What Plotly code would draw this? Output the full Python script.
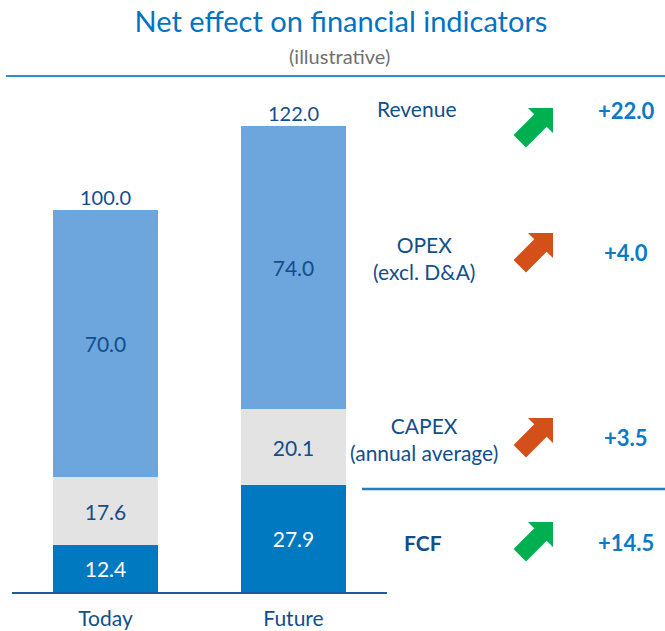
import plotly.graph_objects as go

# Stacked components of the financial indicators (illustrative)
scenarios = ["Today", "Future"]
fcf = [12.4, 27.9]
capex = [17.6, 20.1]
opex = [70.0, 74.0]
revenue = [100.0, 122.0]

indicators = ["Revenue", "OPEX<br>(excl. D&A)", "CAPEX<br>(annual average)", "<b>FCF</b>"]
changes = ["+22.0", "+4.0", "+3.5", "+14.5"]
arrow_colors = ["#00B050", "#D4501A", "#D4501A", "#00B050"]

W, H = 665, 631
BASE_PX = 592          # pixel row of the baseline
PX_PER_UNIT = 3.82     # vertical scale
BAR_W = 105 / 188      # bar width in category units
FONT = "Lato"
NAVY = "#124E8C"
BLUE = "#0A7AC4"


def px(x):
    return x / W


def py(y):
    return (BASE_PX - y) / BASE_PX


fig = go.Figure()

segments = [
    (fcf, "#0079C1", "white"),
    (capex, "#E4E3E4", NAVY),
    (opex, "#6CA6DC", NAVY),
]
for vals, color, tcolor in segments:
    fig.add_trace(go.Bar(
        x=scenarios, y=vals, width=BAR_W,
        marker=dict(color=color, line=dict(width=0)),
        text=[f"{v:.1f}" for v in vals],
        textposition="inside", insidetextanchor="middle", textangle=0,
        textfont=dict(family=FONT, size=21, color=tcolor),
        hoverinfo="skip", showlegend=False,
    ))

# Totals above the bars
fig.add_trace(go.Scatter(
    x=scenarios, y=revenue, mode="text",
    text=[f"{v:.1f}" for v in revenue], textposition="top center",
    textfont=dict(family=FONT, size=20, color=NAVY),
    hoverinfo="skip", showlegend=False,
))

# Dashed connectors between the segment boundaries
levels = [
    revenue,
    [f + c for f, c in zip(fcf, capex)],
    fcf,
]
for lv in levels:
    fig.add_trace(go.Scatter(
        x=[0 + BAR_W / 2, 1 - BAR_W / 2], y=lv, mode="lines",
        line=dict(color="#2D65A5", width=1.2, dash="3px,2px"),
        hoverinfo="skip", showlegend=False,
    ))

shapes = [
    dict(type="line", xref="paper", yref="paper",
         x0=px(6), x1=px(665), y0=py(76), y1=py(76),
         line=dict(color="#2E8BD0", width=2)),
    dict(type="line", xref="paper", yref="paper",
         x0=px(362), x1=px(665), y0=py(489), y1=py(489),
         line=dict(color="#1F7EC5", width=2.5)),
]


def arrow_path(tx, ty, head=17.7, shaft=8.8, length=47.0):
    # Block arrow pointing up-right at 45 degrees, tip at (tx, ty) in pixels
    r = 2 ** -0.5
    d = (r, -r)
    n = (r, r)
    pts_local = [
        (0, 0), (-head, head), (-head, shaft), (-length, shaft),
        (-length, -shaft), (-head, -shaft), (-head, -head),
    ]
    pts = []
    for a, b in pts_local:
        x = tx + a * d[0] + b * n[0]
        y = ty + a * d[1] + b * n[1]
        pts.append(f"{px(x):.5f},{py(y):.5f}")
    return "M" + " L".join(pts) + " Z"


tip_rows = [108, 233, 418, 522]
for ty, col in zip(tip_rows, arrow_colors):
    shapes.append(dict(type="path", xref="paper", yref="paper",
                       path=arrow_path(553, ty),
                       fillcolor=col, line=dict(width=0)))

annotations = [
    dict(text="(illustrative)", x=px(339), y=py(56), xref="paper", yref="paper",
         xanchor="center", yanchor="middle", showarrow=False,
         font=dict(family=FONT, size=20, color="#707070")),
]

label_pos = [(416, 108), (424, 258), (424, 439), (423, 542)]
value_rows = [110, 252, 437, 542]
for lab, (lx, ly) in zip(indicators, label_pos):
    annotations.append(dict(text=lab, x=px(lx), y=py(ly), xref="paper", yref="paper",
                            xanchor="center", yanchor="middle",
                            showarrow=False, align="center",
                            font=dict(family=FONT, size=21, color=NAVY)))
for val, vy in zip(changes, value_rows):
    annotations.append(dict(text=f"<b>{val}</b>", x=px(626), y=py(vy),
                            xref="paper", yref="paper",
                            xanchor="center", yanchor="middle", showarrow=False,
                            font=dict(family=FONT, size=22, color=BLUE)))

fig.update_layout(
    width=W, height=H,
    margin=dict(l=0, r=0, t=0, b=H - BASE_PX),
    barmode="stack", bargap=0,
    paper_bgcolor="#FFFFFF", plot_bgcolor="rgba(0,0,0,0)",
    title=dict(text="Net effect on financial indicators",
               x=341 / W, xanchor="center", y=1 - 22 / H, yanchor="middle",
               xref="container", yref="container",
               font=dict(family=FONT, size=29, color="#0073C4")),
    xaxis=dict(domain=[px(12), px(387)], range=[-0.4973, 1.4973],
               showline=True, linecolor="#1F5A9A", linewidth=2,
               showgrid=False, zeroline=False, ticks="",
               ticklabelstandoff=7,
               tickfont=dict(family=FONT, size=21, color=NAVY)),
    yaxis=dict(domain=[0, 1], range=[0, BASE_PX / PX_PER_UNIT],
               visible=False, showgrid=False, zeroline=False),
    shapes=shapes, annotations=annotations,
)

fig.write_html("out.html")
